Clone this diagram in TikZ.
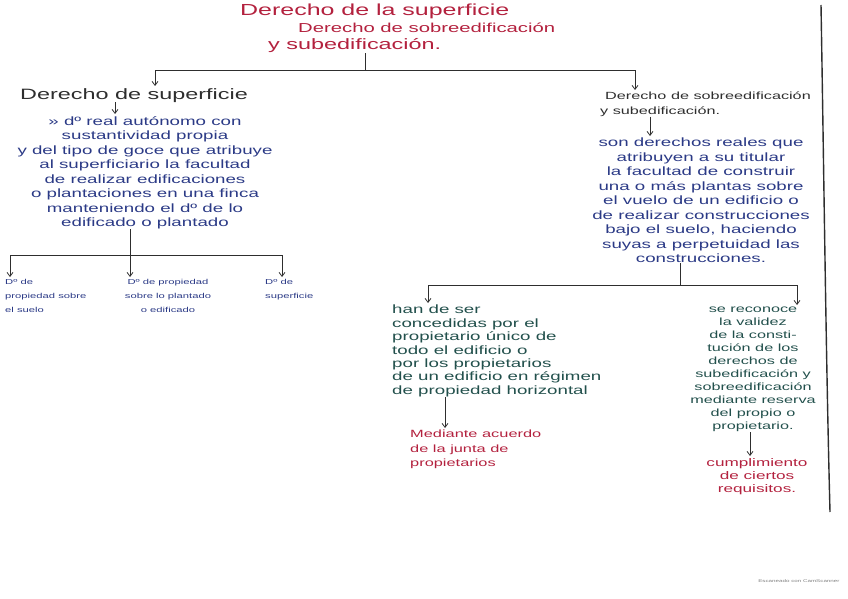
\documentclass[tikz,border=0pt]{standalone}
\usepackage{fontspec}
\setmainfont{Liberation Sans}[FakeStretch=1.56]
\usetikzlibrary{arrows.meta, positioning}
\definecolor{tinta}{HTML}{B3213E}
\definecolor{azul}{HTML}{2B3A86}
\definecolor{verde}{HTML}{22504C}
\definecolor{lapiz}{HTML}{2E2E2E}

\begin{document}
\begin{tikzpicture}[x=1pt, y=-1pt,
  mano/.style={inner sep=0pt, font=\fontsize{12}{14.5}\selectfont},
  linea/.style={draw=lapiz, line width=0.8pt},
  flecha/.style={linea, -{Straight Barb[length=4pt, width=6pt]}, shorten >=2pt}]
\useasboundingbox (0,0) rectangle (848,599);

% titulo
\node[mano, tinta, font=\fontsize{16}{17}\selectfont, align=left, anchor=north west]
  (titulo) at (240,4) {Derecho de la superficie\\\hspace{58pt}{\fontsize{13}{17}\selectfont Derecho de sobreedificación}\\\hspace{28pt}{\fontsize{15}{17}\selectfont y subedificación.}};
\coordinate (barra) at (365,70);
\draw[linea] (titulo.south -| barra) -- (barra);

% rama izquierda
\node[mano, lapiz, font=\fontsize{15}{18}\selectfont, anchor=north west]
  (sup) at (20,88) {Derecho de superficie};
\draw[flecha] (barra) -| ([xshift=135pt]sup.north west);

\node[mano, azul, align=center, anchor=north] (supdef) at (145,116)
  {» dº real autónomo con\\sustantividad propia\\y del tipo de goce que atribuye\\al superficiario la facultad\\de realizar edificaciones\\o plantaciones en una finca\\manteniendo el dº de lo\\edificado o plantado};
\draw[flecha] (sup.south -| 115,0) -- (supdef.north -| 115,0);

\coordinate (barra2) at (130,255);
\draw[linea] (supdef.south -| barra2) -- (barra2);

\node[mano, azul, font=\fontsize{7.2}{14}\selectfont, align=left, anchor=north west]
  (suelo) at (5,279) {Dº de\\propiedad sobre\\el suelo};
\node[mano, azul, font=\fontsize{7.2}{14}\selectfont, align=center, anchor=north]
  (plantado) at (168,279) {Dº de propiedad\\sobre lo plantado\\o edificado};
\node[mano, azul, font=\fontsize{7.2}{14}\selectfont, align=left, anchor=north west]
  (dsup) at (265,279) {Dº de\\superficie};
\draw[flecha] (barra2) -| ([xshift=5pt]suelo.north west);
\draw[flecha] (barra2) -- (plantado.north -| barra2);
\draw[flecha] (barra2) -| ([xshift=17pt]dsup.north west);

% rama derecha
\node[mano, lapiz, font=\fontsize{10.4}{14.5}\selectfont, align=left, anchor=north west]
  (sob) at (605,92) {Derecho de sobreedificación\\\hspace*{-5pt}y subedificación.};
\draw[flecha] (barra) -| ([xshift=30pt]sob.north west);

\node[mano, azul, align=center, anchor=north] (sobdef) at (701,138)
  {son derechos reales que\\atribuyen a su titular\\la facultad de construir\\una o más plantas sobre\\el vuelo de un edificio o\\de realizar construcciones\\bajo el suelo, haciendo\\suyas a perpetuidad las\\construcciones.};
\draw[flecha] (sob.south -| 650,0) -- (sobdef.north -| 650,0);

\coordinate (barra3) at (680,285);
\draw[linea] (sobdef.south -| barra3) -- (barra3);

\node[mano, verde, font=\fontsize{12}{13.4}\selectfont, align=left, anchor=north west]
  (han) at (392,305) {han de ser\\concedidas por el\\propietario único de\\todo el edificio o\\por los propietarios\\de un edificio en régimen\\de propiedad horizontal};
\node[mano, verde, font=\fontsize{10.4}{13}\selectfont, align=center, anchor=north]
  (reserva) at (753,307) {se reconoce\\la validez\\de la consti-\\tución de los\\derechos de\\subedificación y\\sobreedificación\\mediante reserva\\del propio o\\propietario.};
\draw[flecha] (barra3) -| (han.north -| 428,0);
\draw[flecha] (barra3) -| (reserva.north -| 797,0);

\node[mano, tinta, font=\fontsize{10.5}{14.5}\selectfont, align=left, anchor=north west]
  (junta) at (410,430) {Mediante acuerdo\\de la junta de\\propietarios};
\draw[flecha] (han.south -| 445,0) -- (junta.north -| 445,0);

\node[mano, tinta, font=\fontsize{11}{13}\selectfont, align=center, anchor=north]
  (requisitos) at (757,458) {cumplimiento\\de ciertos\\requisitos.};
\draw[flecha] (reserva.south -| 750,0) -- (requisitos.north -| 750,0);

% margen de la hoja
\draw[lapiz, line width=1.4pt] (821,5) .. controls (824,180) and (826,360) .. (830,512);
\node[gray, font=\fontsize{4}{5}\selectfont, anchor=east] (marca) at (843,581) {Escaneado con CamScanner};
\end{tikzpicture}
\end{document}
